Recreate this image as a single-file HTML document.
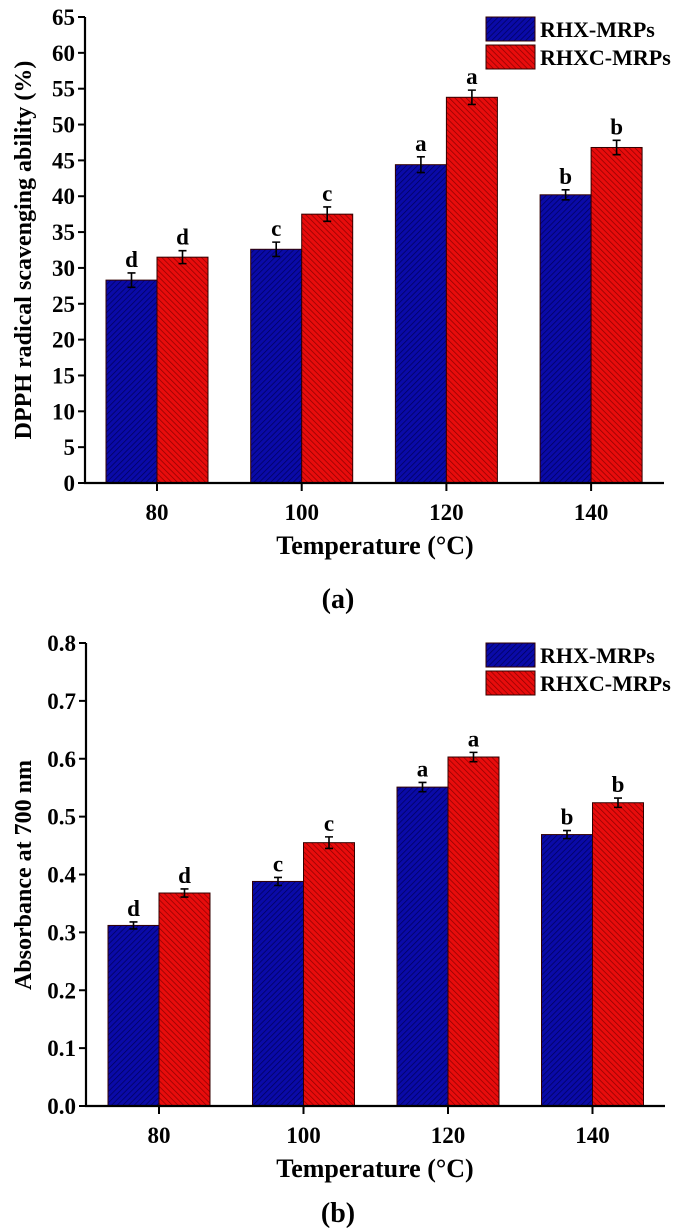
<!DOCTYPE html>
<html><head><meta charset="utf-8"><style>
html,body{margin:0;padding:0;background:#fff;}
svg{display:block;font-family:"Liberation Serif",serif;font-weight:bold;}
</style></head><body>
<svg id="fig" width="677" height="1228" viewBox="0 0 677 1228">
<defs>
<pattern id="hb" width="4" height="4" patternUnits="userSpaceOnUse" patternTransform="rotate(45)">
<rect width="4" height="4" fill="#0a0aa8"/><line x1="0" y1="0" x2="0" y2="4" stroke="#00005a" stroke-width="1.4"/></pattern>
<pattern id="hr" width="4" height="4" patternUnits="userSpaceOnUse" patternTransform="rotate(-45)">
<rect width="4" height="4" fill="#e80c0c"/><line x1="0" y1="0" x2="0" y2="4" stroke="#8a0000" stroke-width="1.4"/></pattern>
</defs>
</svg>
<script>
const categories=["80","100","120","140"];
const seriesNames=["RHX-MRPs","RHXC-MRPs"];
const dpphBlue=[28.3,32.6,44.4,40.2];
const dpphRed=[31.5,37.5,53.8,46.8];
const dpphBlueErr=[1.0,1.0,1.1,0.7];
const dpphRedErr=[0.9,1.0,1.0,1.0];
const dpphBlueLetters=["d","c","a","b"];
const dpphRedLetters=["d","c","a","b"];
const dpphTicks=[0,5,10,15,20,25,30,35,40,45,50,55,60,65];
const absBlue=[0.312,0.388,0.551,0.469];
const absRed=[0.368,0.455,0.603,0.524];
const absBlueErr=[0.006,0.007,0.008,0.007];
const absRedErr=[0.007,0.010,0.008,0.008];
const absBlueLetters=["d","c","a","b"];
const absRedLetters=["d","c","a","b"];
const absTicks=[0.0,0.1,0.2,0.3,0.4,0.5,0.6,0.7,0.8];

const svg=document.getElementById('fig');
const NS='http://www.w3.org/2000/svg';
function mk(tag,attrs,parent,text){const e=document.createElementNS(NS,tag);for(const k in attrs)e.setAttribute(k,attrs[k]);if(text!==undefined)e.textContent=text;(parent||svg).appendChild(e);return e;}

function chart(o){
  const g=mk('g',{});
  
  
  const y=v=>o.y0-(v-o.vmin)/(o.vmax-o.vmin)*(o.y0-o.ytop);
  const xc=i=>o.xFirst+i*o.xStep;
  const bw=o.bw;
  const sets=[[o.blue,o.blueErr,o.blueL,'url(#hb)',-1],[o.red,o.redErr,o.redL,'url(#hr)',0]];
  sets.forEach((s,si)=>{
    s[0].forEach((v,i)=>{
      const x=xc(i)+s[4]*bw;
      const r=mk('rect',{x:x,y:y(v),width:bw,height:o.y0-y(v),fill:s[3],stroke:'#300',"stroke-width":1},g);
      
      
      const cx=x+bw/2, t=y(v+s[1][i]), b=y(v-s[1][i]);
      const e=mk('path',{d:`M${cx-4},${t}H${cx+4}M${cx},${t}V${b}M${cx-4},${b}H${cx+4}`,stroke:'#000',"stroke-width":1.6,fill:'none'},g);
      
      
      const l=mk('text',{x:cx,y:t-6,"text-anchor":'middle',"font-size":23},g,s[2][i]);
      
      
    });
  });
  const ax=mk('path',{d:`M${o.xAxis},${o.ytop}V${o.y0}H${o.xEnd}`,stroke:'#000',"stroke-width":2.2,fill:'none'},g);
  
  
  o.ticks.forEach(tv=>{
    mk('line',{x1:o.xAxis-7,x2:o.xAxis,y1:y(tv),y2:y(tv),stroke:'#000',"stroke-width":2},g);
    const t=mk('text',{x:o.xAxis-10,y:y(tv)+8,"text-anchor":'end',"font-size":23},g,o.fmt(tv));
    
    
  });
  categories.forEach((c,i)=>{
    mk('line',{x1:xc(i),x2:xc(i),y1:o.y0,y2:o.y0+8,stroke:'#000',"stroke-width":2},g);
    const t=mk('text',{x:xc(i),y:o.y0+37,"text-anchor":'middle',"font-size":23},g,c);
    
    
  });
  const xt=mk('text',{x:375,y:o.y0+71,"text-anchor":'middle',"font-size":26},g,'Temperature (°C)');
  
  
  const yt=mk('text',{x:0,y:0,transform:`translate(31,${o.yTitleY}) rotate(-90)`,"text-anchor":'middle',"font-size":24},g,o.yTitle);
  
  
  const pl=mk('text',{x:338,y:o.panelY,"text-anchor":'middle',"font-size":28},g,o.panel);
  
  
  [['url(#hb)',0],['url(#hr)',1]].forEach(([f,k])=>{
    const ly=o.legY+k*28;
    const lr=mk('rect',{x:486,y:ly,width:49,height:24,fill:f,stroke:'#300',"stroke-width":1},g);
    
    
    const lt=mk('text',{x:540,y:ly+20,"font-size":22},g,seriesNames[k]);
    
    
  });
}
chart({name:'chart-a-dpph',blue:dpphBlue,red:dpphRed,blueErr:dpphBlueErr,redErr:dpphRedErr,blueL:dpphBlueLetters,redL:dpphRedLetters,
  ticks:dpphTicks,fmt:v=>String(v),vmin:0,vmax:65,y0:483,ytop:17,xAxis:85,xEnd:664,xFirst:157,xStep:144.7,bw:51,
  yTitle:'DPPH radical scavenging ability (%)',yTitleY:250,panel:'(a)',panelY:608,legY:17});
chart({name:'chart-b-absorbance',blue:absBlue,red:absRed,blueErr:absBlueErr,redErr:absRedErr,blueL:absBlueLetters,redL:absRedLetters,
  ticks:absTicks,fmt:v=>v.toFixed(1),vmin:0,vmax:0.8,y0:1106,ytop:643,xAxis:86,xEnd:665,xFirst:159,xStep:144.5,bw:51,
  yTitle:'Absorbance at 700 nm',yTitleY:875,panel:'(b)',panelY:1222,legY:643});
</script>
</body></html>
